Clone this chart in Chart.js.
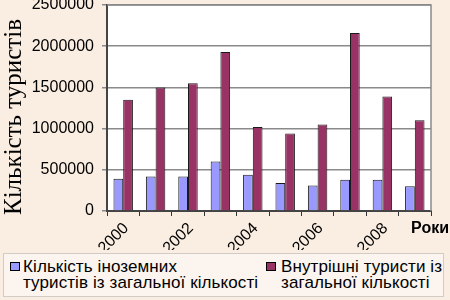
<!DOCTYPE html>
<html>
<head>
<meta charset="utf-8">
<script src="https://cdn.jsdelivr.net/npm/chart.js@4/dist/chart.umd.min.js"></script>
<style>
  html, body { margin: 0; padding: 0; background: #FAEEE2; }
  #wrap { position: relative; width: 450px; height: 300px; overflow: hidden; }
  canvas { position: absolute; left: 0; top: 0; z-index: 2; }
  #legend { position: absolute; left: 3px; top: 253px; width: 441px; height: 44px; z-index: 1;
    border: 1px solid #d2ccc6; box-sizing: border-box; background: #FCF4EE;
    font-family: 'Liberation Sans', Arial, sans-serif;
    font-size: 17px; line-height: 16px; color: #000; }
  .sw { position: absolute; width: 8px; height: 7px; border: 1px solid #000; }
  .tx { position: absolute; white-space: nowrap; letter-spacing: 0.1px; }
</style>
</head>
<body>
<div id="wrap">
  <div id="legend"></div>
  <canvas id="c" width="450" height="300"></canvas>
</div>
<script>
const years = ['2000','2001','2002','2003','2004','2005','2006','2007','2008','2009'];
const foreignTourists = [390000, 420000, 420000, 600000, 440000, 340000, 310000, 380000, 380000, 300000];
const domesticTourists = [1350000, 1500000, 1550000, 1930000, 1020000, 940000, 1050000, 2160000, 1390000, 1100000];
const seriesNames = [['Кількість іноземних', 'туристів із загальної кількості'], ['Внутрішні туристи із', 'загальної кількості']];
const seriesColors = ['#9999FF', '#993366'];
const yTicks = [0, 500000, 1000000, 1500000, 2000000, 2500000];
const yTitle = 'Кількість туристів';
const xTitle = 'Роки';

Chart.defaults.font.family = "'Liberation Sans', Arial, sans-serif";
Chart.defaults.font.size = 16;
Chart.defaults.color = '#000';

const plotFrame = {
  id: 'plotFrame',
  beforeDraw(chart) {
    const {ctx, chartArea: a} = chart;
    ctx.save();
    ctx.fillStyle = '#FFFFFF';
    ctx.fillRect(a.left, a.top, a.right - a.left, a.bottom - a.top);
    ctx.restore();
  },
  afterDraw(chart) {
    const {ctx, chartArea: a} = chart;
    ctx.save();
    ctx.strokeStyle = '#8a8a8a';
    ctx.lineWidth = 1.5;
    ctx.beginPath();
    ctx.moveTo(a.left, a.top); ctx.lineTo(a.right, a.top); ctx.lineTo(a.right, a.bottom);
    ctx.stroke();
    ctx.fillStyle = '#000';
    ctx.font = "bold 16px 'Liberation Sans', Arial, sans-serif";
    ctx.textAlign = 'right';
    ctx.textBaseline = 'middle';
    ctx.fillText(xTitle, 449, 229);
    // y axis title
    ctx.translate(14, 117);
    ctx.rotate(-Math.PI / 2);
    ctx.font = "25px 'Liberation Serif', 'Times New Roman', serif";
    ctx.textAlign = 'center';
    ctx.textBaseline = 'middle';
    ctx.fillText(yTitle, 0, 0);
    ctx.restore();
  }
};

new Chart(document.getElementById('c'), {
  type: 'bar',
  data: {
    labels: years,
    datasets: [
      { label: seriesNames[0].join(' '), data: foreignTourists, backgroundColor: seriesColors[0], borderColor: '#1a1a1a', borderWidth: 1 },
      { label: seriesNames[1].join(' '), data: domesticTourists, backgroundColor: seriesColors[1], borderColor: '#1a1a1a', borderWidth: 1 }
    ]
  },
  options: {
    responsive: false,
    animation: false,
    devicePixelRatio: 1,
    layout: { padding: { left: 0, right: 19, top: 5, bottom: 50 } },
    plugins: { legend: { display: false }, tooltip: { enabled: false } },
    datasets: { bar: { categoryPercentage: 0.6, barPercentage: 1.0 } },
    scales: {
      x: {
        grid: { display: true, drawOnChartArea: false, drawTicks: true, tickLength: 5, color: '#333', offset: true },
        border: { display: true, color: '#444', width: 2 },
        ticks: { autoSkip: false, maxRotation: 45, minRotation: 45, padding: 3, labelOffset: 3,
          font: { size: 16 },
          callback: function(v, i) { return i % 2 === 0 ? years[i] : ''; } },
        afterFit(scale) { scale.height = 39; }
      },
      y: {
        min: 0, max: 2500000,
        afterBuildTicks(scale) { scale.ticks = yTicks.map(v => ({ value: v })); },
        grid: { color: '#8a8a8a', lineWidth: 1.5, tickLength: 5, drawTicks: true },
        border: { display: true, color: '#444', width: 2 },
        ticks: { padding: 8, callback: v => String(v) },
        afterFit(scale) { scale.width = 107; scale.paddingTop = 0; scale.paddingBottom = 0; }
      }
    }
  },
  plugins: [plotFrame]
});

const legend = document.getElementById('legend');
const pos = [{ sw: 6, tx: 19 }, { sw: 262, tx: 277 }];
seriesNames.forEach((lines, i) => {
  const sw = document.createElement('div');
  sw.className = 'sw';
  sw.style.left = pos[i].sw + 'px';
  sw.style.top = '8px';
  sw.style.background = seriesColors[i];
  legend.appendChild(sw);
  lines.forEach((t, j) => {
    const d = document.createElement('div');
    d.className = 'tx';
    d.style.left = pos[i].tx + 'px';
    d.style.top = (5 + j * 16) + 'px';
    d.textContent = t;
    legend.appendChild(d);
  });
});
</script>
</body>
</html>
